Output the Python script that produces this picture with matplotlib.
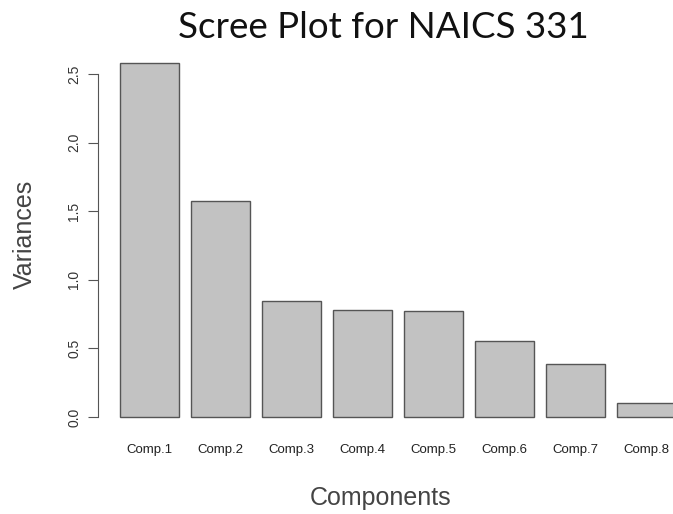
import numpy as np
import matplotlib
matplotlib.use("Agg")
import matplotlib.pyplot as plt

components = ["Comp.1", "Comp.2", "Comp.3", "Comp.4", "Comp.5", "Comp.6", "Comp.7", "Comp.8"]
variances = [2.58, 1.574, 0.845, 0.78, 0.773, 0.554, 0.386, 0.102]
yticks = [0.0, 0.5, 1.0, 1.5, 2.0, 2.5]

plt.rcParams["font.family"] = ["Liberation Sans", "DejaVu Sans"]

fig = plt.figure(figsize=(6.73, 5.14), dpi=100)
# R-style barplot geometry: width 1, space 0.2
ax = fig.add_axes([97.8 / 673, 1 - 431.1 / 514, 1 - 97.8 / 673, (431.1 - 48.9) / 514])

x = 0.7 + 1.2 * np.arange(len(variances))
ax.bar(x, variances, width=1.0, color="#C2C2C2", edgecolor="#555555", linewidth=1.0)

ax.set_xlim(-0.176, 9.545)
ax.set_ylim(-0.103, 2.683)

for s in ["top", "right", "bottom"]:
    ax.spines[s].set_visible(False)
ax.spines["left"].set_bounds(0, 2.5)
ax.spines["left"].set_color("#555555")

ax.set_yticks(yticks)
ax.set_yticklabels([f"{v:.1f}" for v in yticks], rotation=90, va="center", fontsize=10, color="#333333")
ax.tick_params(axis="y", length=7, width=0.8, color="#555555", pad=5)

ax.set_xticks(x)
ax.set_xticklabels(components, fontsize=9.5, color="#222222")
ax.tick_params(axis="x", length=0, pad=9)

fig.text(25 / 673, 1 - 234 / 514, "Variances", fontsize=18, color="#444444", rotation=90,
         ha="center", va="center")
fig.text(381 / 673, 1 - 498 / 514, "Components", fontsize=18, color="#444444", ha="center", va="center")
fig.text(383 / 673, 1 - 28 / 514, "Scree Plot for NAICS 331", fontsize=26.5, family=["Lato", "DejaVu Sans"],
         color="#111111", ha="center", va="center")

fig.savefig("out.png", dpi=100)
